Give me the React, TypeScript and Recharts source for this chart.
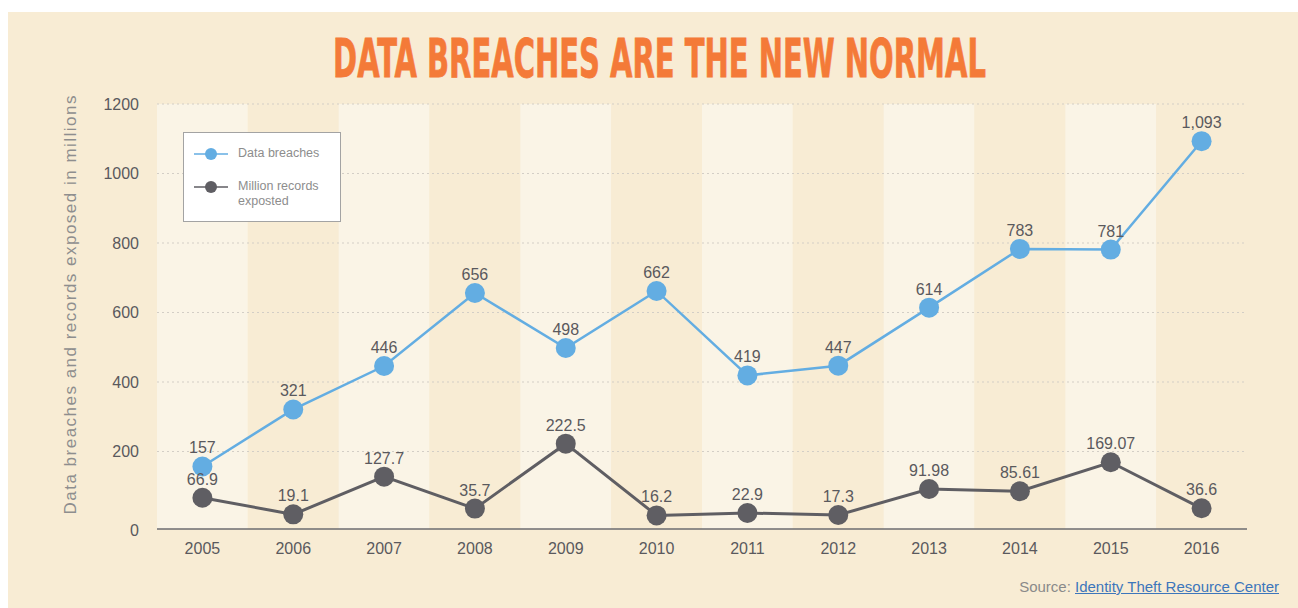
import React from 'react';
import { ComposedChart, Line, XAxis, YAxis, ReferenceLine, ReferenceArea, LabelList } from 'recharts';

// values
const years = ['2005', '2006', '2007', '2008', '2009', '2010', '2011', '2012', '2013', '2014', '2015', '2016'];
const breaches = [157, 321, 446, 656, 498, 662, 419, 447, 614, 783, 781, 1093];
const records = [66.9, 19.1, 127.7, 35.7, 222.5, 16.2, 22.9, 17.3, 91.98, 85.61, 169.07, 36.6];
const yTicks = [0, 200, 400, 600, 800, 1000, 1200];
const gridValues = [200, 400, 600, 800, 1000, 1200];

const series = [
  { key: 'breaches', name: 'Data breaches', color: '#63ade2' },
  { key: 'records', name: 'Million records exposted', color: '#5f5e63' },
];

const data = years.map((year, i) => ({ year, breaches: breaches[i], records: records[i] }));

const FONT = '"Liberation Sans", Arial, Helvetica, sans-serif';
const BG = '#f8ecd4';
const BAND_LIGHT = '#faf4e6';
const TEXT = '#5a595d';

const YTick = (props: any) => {
  const { x, y, payload } = props;
  // the zero label sits on the axis line in the original, a few px below the 0 value
  const shift = payload.value === 0 ? 9 : 0;
  return (
    <text x={x} y={y + shift} dy="0.355em" textAnchor="end" fill={TEXT} fontSize={16} fontFamily={FONT}>
      {payload.value}
    </text>
  );
};

const Legend = () => (
  <div
    style={{
      position: 'absolute',
      left: 183,
      top: 132,
      width: 158,
      height: 90,
      boxSizing: 'border-box',
      border: '1.5px solid #a3a3a3',
      background: '#fff',
      fontFamily: FONT,
      fontSize: 12.5,
      color: '#8d8d8d',
    }}
  >
    {series.map((s, i) => (
      <div key={s.key} style={{ position: 'absolute', left: 10, top: i === 0 ? 13 : 46, display: 'flex', alignItems: 'flex-start' }}>
        <svg width={34} height={16} style={{ flex: 'none' }}>
          <line x1={0} y1={8} x2={34} y2={8} stroke={s.color} strokeWidth={1.5} />
          <circle cx={17} cy={8} r={6} fill={s.color} />
        </svg>
        <div style={{ marginLeft: 10, lineHeight: '15px', width: 90 }}>
          {s.key === 'records' ? (
            <>
              Million records
              <br />
              exposted
            </>
          ) : (
            s.name
          )}
        </div>
      </div>
    ))}
  </div>
);

export default function App() {
  return (
    <div style={{ position: 'absolute', left: 0, top: 0, width: 1298, height: 608, background: '#fff', overflow: 'hidden' }}>
      <div style={{ position: 'absolute', left: 8, top: 12, width: 1290, height: 596, background: BG }} />

      {/* title - condensed display face squeezed horizontally */}
      <svg style={{ position: 'absolute', left: 0, top: 0 }} width={1298} height={100}>
        <g transform="translate(659.5 77) scale(0.597 1)">
          <text
            x={0}
            y={0}
            textAnchor="middle"
            fill="#f47a38"
            stroke="#f47a38"
            strokeWidth={0.8}
            fontSize={54}
            fontWeight="bold"
            fontFamily='"Liberation Sans Narrow", "DejaVu Sans Condensed", sans-serif'
          >
            DATA BREACHES ARE THE NEW NORMAL
          </text>
        </g>
      </svg>

      <div style={{ position: 'absolute', left: 0, top: 0 }}>
        <ComposedChart width={1298} height={608} data={data} margin={{ top: 104, right: 51, bottom: 49, left: 57 }}>
          {years.map((y, i) => (
            <ReferenceArea
              key={y}
              x1={y}
              x2={y}
              fill={i % 2 === 0 ? BAND_LIGHT : BG}
              fillOpacity={1}
              stroke="none"
              ifOverflow="visible"
            />
          ))}
          {gridValues.map((v) => (
            <ReferenceLine key={v} y={v} stroke="#d3cec6" strokeWidth={1} strokeDasharray="2 3" />
          ))}
          <XAxis
            dataKey="year"
            scale="band"
            height={30}
            tickLine={false}
            axisLine={{ stroke: '#6d6c70', strokeWidth: 1.5 }}
            tick={{ fill: TEXT, fontSize: 16, fontFamily: FONT }}
            tickMargin={8}
          />
          <YAxis
            width={100}
            domain={[-23, 1200]}
            ticks={yTicks}
            axisLine={false}
            tickLine={false}
            tickMargin={12}
            tick={<YTick />}
            interval={0}
          />
          <Line
            dataKey="records"
            name={series[1].name}
            stroke={series[1].color}
            strokeWidth={3}
            dot={{ r: 10, fill: series[1].color, stroke: 'none' }}
            activeDot={false}
            isAnimationActive={false}
          >
            <LabelList dataKey="records" position="top" offset={13} fill={TEXT} fontSize={16} fontFamily={FONT} />
          </Line>
          <Line
            dataKey="breaches"
            name={series[0].name}
            stroke={series[0].color}
            strokeWidth={2.5}
            dot={{ r: 10, fill: series[0].color, stroke: 'none' }}
            activeDot={false}
            isAnimationActive={false}
          >
            <LabelList
              dataKey="breaches"
              position="top"
              offset={13}
              fill={TEXT}
              fontSize={16}
              fontFamily={FONT}
              formatter={(v: any) => Number(v).toLocaleString('en-US')}
            />
          </Line>
        </ComposedChart>
      </div>

      {/* y axis title */}
      <svg style={{ position: 'absolute', left: 0, top: 0, pointerEvents: 'none' }} width={120} height={608}>
        <text
          x={70}
          y={305}
          transform="rotate(-90 70 305)"
          textAnchor="middle"
          dominantBaseline="central"
          fill="#8e8e8e"
          fontSize={17}
          textLength={419}
          lengthAdjust="spacing"
          fontFamily={FONT}
        >
          Data breaches and records exposed in millions
        </text>
      </svg>

      <Legend />

      <div
        style={{
          position: 'absolute',
          right: 19,
          top: 578,
          fontFamily: FONT,
          fontSize: 15,
          lineHeight: '18px',
          color: '#8a8a8a',
          whiteSpace: 'nowrap',
        }}
      >
        Source: <span style={{ color: '#3d76bb', textDecoration: 'underline' }}>Identity Theft Resource Center</span>
      </div>
    </div>
  );
}
